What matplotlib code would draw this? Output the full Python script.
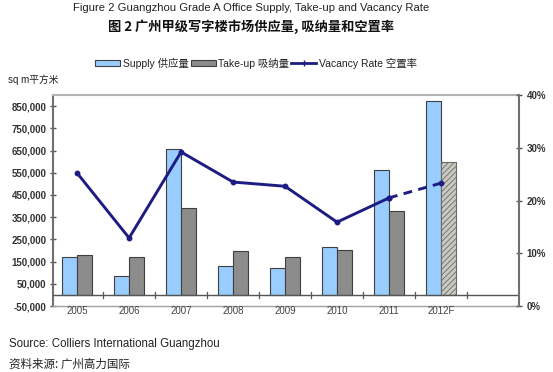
import numpy as np
import matplotlib
matplotlib.use("Agg")
import matplotlib.pyplot as plt
from matplotlib.patches import Patch
from matplotlib.lines import Line2D

plt.rcParams["font.family"] = ["Liberation Sans", "Noto Sans CJK SC", "DejaVu Sans"]
plt.rcParams["hatch.linewidth"] = 0.6

# ---- data ---------------------------------------------------------------------
years = ["2005", "2006", "2007", "2008", "2009", "2010", "2011", "2012F"]
supply = [170000, 85000, 655000, 128000, 120000, 215000, 562000, 875000]
takeup = [178000, 170000, 392000, 199000, 170000, 200000, 380000, 600000]
vacancy = [25.2, 12.9, 29.2, 23.5, 22.7, 15.9, 20.5, 23.3]  # %

SUPPLY_C = "#99ccff"
TAKEUP_C = "#8c8c8c"
LINE_C = "#1c1c84"
TXT = "#333333"
CJK = ["Noto Sans CJK SC", "DejaVu Sans"]

fig = plt.figure(figsize=(5.53, 3.72), dpi=100)
ax = fig.add_axes([0.0953, 0.1774, 0.9385 - 0.0953, 0.7446 - 0.1774])

x = np.arange(len(years))
w = 0.295
ax.bar(x - w / 2, supply, w, color=SUPPLY_C, edgecolor="#404040", linewidth=0.8, zorder=2)
tk = ax.bar(x + w / 2, takeup, w, color=TAKEUP_C, edgecolor="#404040", linewidth=0.8, zorder=2)
# forecast take-up is hatched
tk[-1].set_facecolor("#c9c9c0")
tk[-1].set_hatch("//////")
tk[-1].set_edgecolor("#6a6a6a")

ax.set_xlim(-0.47, 8.5)
ax.set_ylim(-50000, 900000)
ax.set_yticks(np.arange(-50000, 850001, 100000))
ax.set_yticklabels([f"{v:,}" for v in range(-50000, 850001, 100000)],
                   fontsize=7, color=TXT, fontweight="bold")
ax.axhline(0, color="#555555", linewidth=1.0, zorder=3)
# category boundary ticks on the zero line
for b in np.arange(0.5, 8.0, 1.0):
    ax.plot([b, b], [-14000, 14000], color="#555555", linewidth=0.9, zorder=3)
ax.set_xticks([])
for xi, lab in zip(x, years):
    ax.text(xi, -72000, lab, ha="center", va="center", fontsize=7, color="#444444")

ax.tick_params(axis="y", direction="inout", length=5, width=1, color="#555555", pad=2)
ax.spines["left"].set_color("#707070")
ax.spines["left"].set_linewidth(1.5)
ax.spines["top"].set_color("#b4b4b4")
ax.spines["top"].set_linewidth(1.5)
ax.spines["bottom"].set_color("#a0a0a0")
ax.spines["bottom"].set_linewidth(1.0)
ax.spines["right"].set_visible(False)

ax2 = ax.twinx()
ax2.set_ylim(0, 40)
ax2.set_yticks([0, 10, 20, 30, 40])
ax2.set_yticklabels(["0%", "10%", "20%", "30%", "40%"], fontsize=7, color=TXT, fontweight="bold")
ax2.tick_params(axis="y", direction="inout", length=5, width=1, color="#555555", pad=3)
ax2.spines["right"].set_color("#707070")
ax2.spines["right"].set_linewidth(1.5)
for s in ["left", "top", "bottom"]:
    ax2.spines[s].set_visible(False)

ax2.plot(x[:7], vacancy[:7], color=LINE_C, linewidth=2.1, marker="o", markersize=3.2)
ax2.plot(x[6:], vacancy[6:], color=LINE_C, linewidth=2.1, linestyle=(0, (3, 2.2)),
         marker="o", markersize=3.2)

# ---- titles / legend / notes --------------------------------------------------
fig.text(0.454, 0.978, "Figure 2 Guangzhou Grade A Office Supply, Take-up and Vacancy Rate",
         ha="center", va="center", fontsize=8.1, color="#222222")
fig.text(0.454, 0.927, "图 2 广州甲级写字楼市场供应量, 吸纳量和空置率",
         ha="center", va="center", fontsize=9.5, fontweight="bold", color="#111111", family=CJK)

handles = [Patch(facecolor=SUPPLY_C, edgecolor="#404040", linewidth=0.8),
           Patch(facecolor=TAKEUP_C, edgecolor="#404040", linewidth=0.8),
           Line2D([], [], color=LINE_C, linewidth=2, marker="|", markersize=5)]
labels = ["Supply 供应量", "Take-up 吸纳量", "Vacancy Rate 空置率"]
fig.legend(handles, labels, loc="center", bbox_to_anchor=(0.463, 1 - 63 / 372), ncol=3,
           frameon=False, prop={"family": ["Liberation Sans", "Noto Sans CJK SC"], "size": 7.5},
           handlelength=2.4, handleheight=0.5, handletextpad=0.25, columnspacing=0.2,
           labelcolor="#222222")

fig.text(8 / 553, 1 - 80 / 372, "sq m平方米", ha="left", va="center", fontsize=7,
         color="#222222", family=["Liberation Sans", "Noto Sans CJK SC"])
fig.text(9 / 553, 1 - 344 / 372, "Source: Colliers International Guangzhou", ha="left",
         va="center", fontsize=8.3, color="#222222")
fig.text(9 / 553, 1 - 364 / 372, "资料来源: 广州高力国际", ha="left", va="center",
         fontsize=8.3, color="#222222", family=CJK)

fig.savefig("out.png", dpi=100)
